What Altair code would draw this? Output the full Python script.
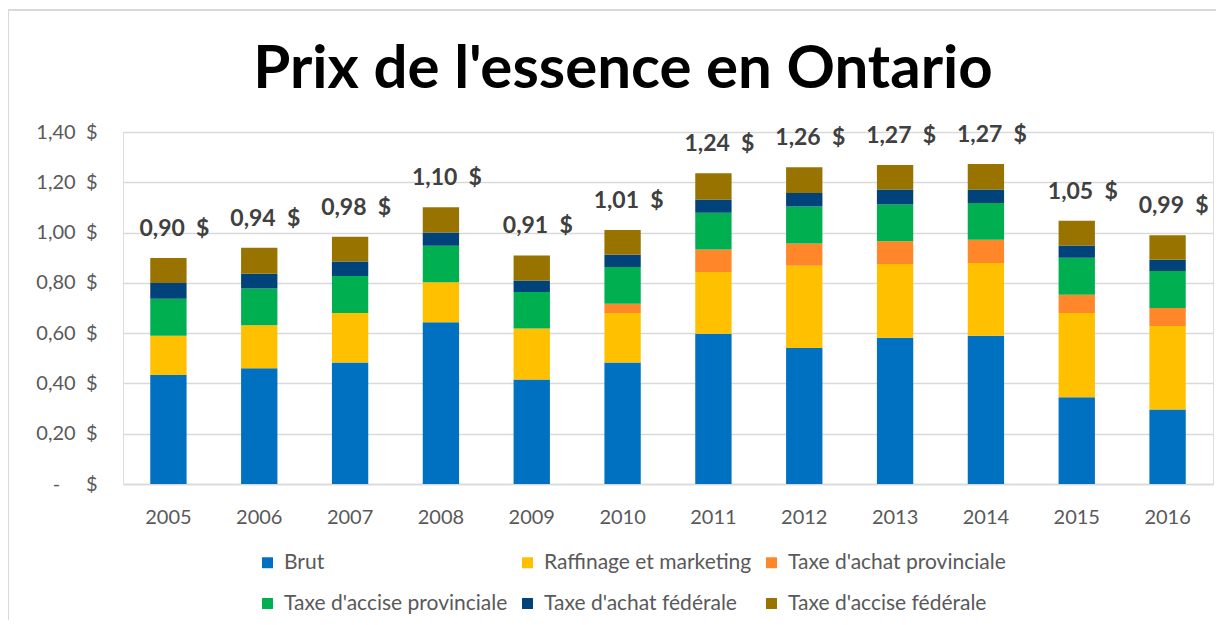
import altair as alt
import pandas as pd

years = [str(y) for y in range(2005, 2017)]
categories = [
    "Brut",
    "Raffinage et marketing",
    "Taxe d'achat provinciale",
    "Taxe d'accise provinciale",
    "Taxe d'achat fédérale",
    "Taxe d'accise fédérale",
]
colors = ["#0070C0", "#FFC000", "#FF8629", "#00B050", "#00427A", "#997300"]

brut = [0.434, 0.460, 0.483, 0.643, 0.416, 0.483, 0.598, 0.541, 0.582, 0.590, 0.345, 0.296]
raffinage = [0.156, 0.171, 0.197, 0.159, 0.202, 0.197, 0.245, 0.327, 0.293, 0.289, 0.335, 0.332]
achat_prov = [0.0, 0.0, 0.0, 0.0, 0.0, 0.037, 0.090, 0.089, 0.090, 0.092, 0.073, 0.072]
accise_prov = [0.147, 0.147, 0.147, 0.146, 0.146, 0.146, 0.146, 0.147, 0.147, 0.147, 0.147, 0.147]
achat_fed = [0.062, 0.058, 0.058, 0.052, 0.045, 0.049, 0.053, 0.053, 0.059, 0.053, 0.049, 0.045]
accise_fed = [0.100, 0.104, 0.098, 0.101, 0.100, 0.098, 0.104, 0.103, 0.098, 0.102, 0.098, 0.097]
totals = [0.90, 0.94, 0.98, 1.10, 0.91, 1.01, 1.24, 1.26, 1.27, 1.27, 1.05, 0.99]

series = [brut, raffinage, achat_prov, accise_prov, achat_fed, accise_fed]

rows = []
for i, y in enumerate(years):
    for j, (c, vals) in enumerate(zip(categories, series)):
        rows.append({"Année": y, "Composante": c, "ordre": j, "Prix": vals[i]})
df = pd.DataFrame(rows)

tot = pd.DataFrame({
    "Année": years,
    "Somme": [sum(s[i] for s in series) for i in range(len(years))],
    "label": [f"{t:.2f}".replace(".", ",") + "\u00a0\u00a0$" for t in totals],
})

W, H = 1090, 352
FONT = "Lato"

x_enc = alt.X(
    "Année:N",
    sort=years,
    scale=alt.Scale(paddingInner=0.6, paddingOuter=0.3),
    axis=alt.Axis(
        title=None, labelAngle=0, ticks=False, domainColor="#D9D9D9", domainWidth=1.5,
        labelFont=FONT, labelFontSize=20, labelColor="#595959", labelPadding=23,
    ),
)

bars = alt.Chart(df).mark_bar().encode(
    x=x_enc,
    y=alt.Y(
        "Prix:Q",
        stack="zero",
        scale=alt.Scale(domain=[0, 1.4], nice=False),
        axis=alt.Axis(
            title=None,
            values=[0, 0.2, 0.4, 0.6, 0.8, 1.0, 1.2, 1.4],
            labelExpr="datum.value == 0 ? '-\u00a0\u00a0\u00a0\u00a0\u00a0$' : replace(format(datum.value, '.2f'), '.', ',') + '\u00a0\u00a0$'",
            domain=False, ticks=False, gridColor="#D9D9D9", gridWidth=1.5,
            labelFont=FONT, labelFontSize=20, labelColor="#595959", labelPadding=26,
        ),
    ),
    color=alt.Color(
        "Composante:N",
        scale=alt.Scale(domain=categories, range=colors),
        legend=alt.Legend(
            title=None, orient="none", legendX=134, legendY=420, columns=3,
            direction="horizontal",
            symbolType="square", symbolSize=120, symbolStrokeWidth=0,
            labelFont=FONT, labelFontSize=21, labelColor="#595959",
            rowPadding=19, columnPadding=9, labelOffset=6, labelLimit=400,
        ),
    ),
    order=alt.Order("ordre:Q", sort="ascending"),
)

labels = alt.Chart(tot).mark_text(
    font=FONT, fontSize=23, fontWeight="bold", color="#404040",
    baseline="alphabetic", dy=-22, dx=6,
).encode(
    x=alt.X("Année:N", sort=years),
    y=alt.Y("Somme:Q"),
    text="label:N",
)

frame_left = alt.Chart(tot).mark_rule(color="#D9D9D9", strokeWidth=2).encode(
    x=alt.value(-115), y=alt.value(-122), y2=alt.value(H + 150)
)
frame_top = alt.Chart(tot).mark_rule(color="#D9D9D9", strokeWidth=2).encode(
    x=alt.value(-115), x2=alt.value(W + 20), y=alt.value(-122)
)

chart = alt.layer(frame_left, frame_top, bars, labels).properties(
    width=W,
    height=H,
    title=alt.TitleParams(
        "Prix de l'essence en Ontario", font=FONT, fontSize=60, fontWeight="bold",
        color="#000000", anchor="middle", dx=-45, offset=-139, baseline="alphabetic",
    ),
    autosize=alt.AutoSizeParams(type="none"),
    padding={"left": 115, "top": 124, "right": 3, "bottom": 136},
).configure_view(stroke=None).configure(background="white")

chart.save("out.html", embed_options={"renderer": "svg", "actions": False})
